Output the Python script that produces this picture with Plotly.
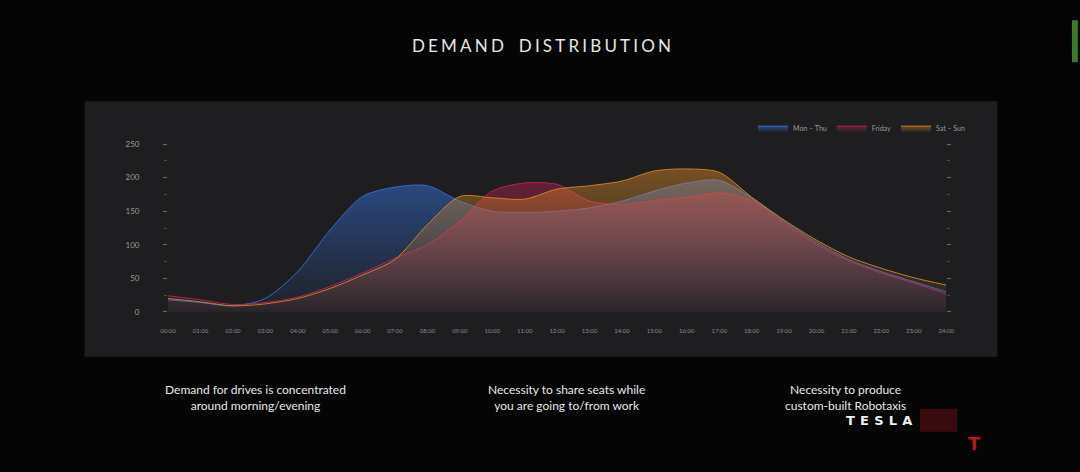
import plotly.graph_objects as go

# hourly demand, 00:00 .. 24:00
hours = list(range(25))
hour_labels = [f"{h:02d}:00" for h in hours]

mon_thu = [18, 14, 9, 20, 60, 122, 172, 186, 188, 165, 150, 148, 150, 155, 165, 180, 192, 196, 170, 135, 104, 78, 60, 45, 30]
friday = [24, 18, 11, 14, 22, 38, 58, 80, 100, 135, 180, 192, 190, 165, 160, 166, 171, 177, 166, 132, 101, 76, 58, 43, 27]
sat_sun = [20, 15, 9, 12, 20, 35, 55, 78, 130, 172, 170, 168, 183, 188, 195, 210, 213, 208, 171, 137, 107, 82, 65, 51, 40]

series = [
    ("Mon – Thu", mon_thu, "55,115,225", 0.55),
    ("Friday", friday, "200,35,85", 0.45),
    ("Sat – Sun", sat_sun, "225,140,40", 0.45),
]

captions = [
    "Demand for drives is concentrated<br>around morning/evening",
    "Necessity to share seats while<br>you are going to/from work",
    "Necessity to produce<br>custom-built Robotaxis",
]

W, H = 1080, 472
K = 0.98  # the screenshot comes out slightly shrunk toward the centre


def px(x):
    return (540 + (x - 540) / K) / W


def py(y):
    return 1 - (236 + (y - 236) / K) / H


fig = go.Figure()

for name, vals, rgb, a in series:
    fig.add_trace(go.Scatter(
        x=hours, y=vals, name=name, mode="lines",
        line=dict(color=f"rgba({rgb},0.85)", width=1, shape="spline", smoothing=0.8),
        fill="tozeroy",
        fillgradient=dict(
            type="vertical",
            colorscale=[[0, f"rgba({rgb},0.02)"], [1, f"rgba({rgb},{a})"]],
            start=0, stop=215,
        ),
    ))

# dark chart panel
fig.add_shape(type="rect", xref="paper", yref="paper",
              x0=px(87), x1=px(995), y0=py(357), y1=py(101),
              fillcolor="#1e1e20", line=dict(width=0), layer="below")
# small slide decorations
fig.add_shape(type="rect", xref="paper", yref="paper",
              x0=px(1075), x1=1, y0=py(62), y1=py(20),
              fillcolor="#3a7a2a", line=dict(width=0))
fig.add_shape(type="rect", xref="paper", yref="paper",
              x0=px(918), x1=px(955), y0=py(432), y1=py(409),
              fillcolor="rgba(110,18,24,0.5)", line=dict(width=0))

title = "\u2009\u200a".join("DEMAND DISTRIBUTION").replace("\u2009\u200a \u2009\u200a", "\u2003\u2009")
fig.add_annotation(text=title, x=px(541), y=py(45), xref="paper", yref="paper",
                   xanchor="center", yanchor="middle", showarrow=False,
                   font=dict(family="Lato", size=17, color="#e6e6e6"))

for cx, txt in zip([257, 566, 844], captions):
    fig.add_annotation(text=txt, x=px(cx), y=py(398), xref="paper", yref="paper",
                       xanchor="center", yanchor="middle", showarrow=False, align="center",
                       font=dict(family="Lato", size=12, color="#e8e8e8"))

fig.add_annotation(text="<b>T\u2009\u2009E\u2009\u2009S\u2009\u2009L\u2009\u2009A</b>", x=px(877), y=py(421),
                   xref="paper", yref="paper", xanchor="center", yanchor="middle",
                   showarrow=False, font=dict(family="DejaVu Sans", size=13, color="#f0f0f0"))
fig.add_annotation(text="<b>T</b>", x=px(972), y=py(444), xref="paper", yref="paper",
                   xanchor="center", yanchor="middle",
                   showarrow=False, font=dict(family="DejaVu Sans", size=18, color="#b8141a"))

fig.update_layout(
    width=W, height=H,
    margin=dict(l=0, r=0, t=0, b=0),
    paper_bgcolor="#050505",
    plot_bgcolor="rgba(0,0,0,0)",
    showlegend=True,
    legend=dict(orientation="h", x=px(752), y=py(128), xanchor="left", yanchor="middle",
                font=dict(family="Lato", size=7, color="#9a9a9a"),
                bgcolor="rgba(0,0,0,0)", itemwidth=30),
    xaxis=dict(domain=[px(170), px(944)], range=[0, 24],
               tickvals=hours, ticktext=hour_labels, showgrid=False, zeroline=False,
               ticklabelstandoff=14,
               tickfont=dict(family="Lato", size=6, color="#8a8a8a"), ticks=""),
    yaxis=dict(domain=[py(312), py(144)], range=[0, 250],
               tickvals=[0, 50, 100, 150, 200, 250], showgrid=False, zeroline=False,
               ticks="outside", ticklen=4, tickcolor="#6a6a6a", mirror="ticks",
               minor=dict(ticks="outside", ticklen=3, dtick=25, tickcolor="#4a4a4a"),
               ticklabelstandoff=22,
               tickfont=dict(family="Lato", size=8, color="#9a9a9a")),
)

fig.write_html(
    "out.html",
    config={"displayModeBar": False},
    post_script="document.body.style.margin='0';document.documentElement.style.overflow='hidden';"
                "document.body.style.overflow='hidden';",
)
